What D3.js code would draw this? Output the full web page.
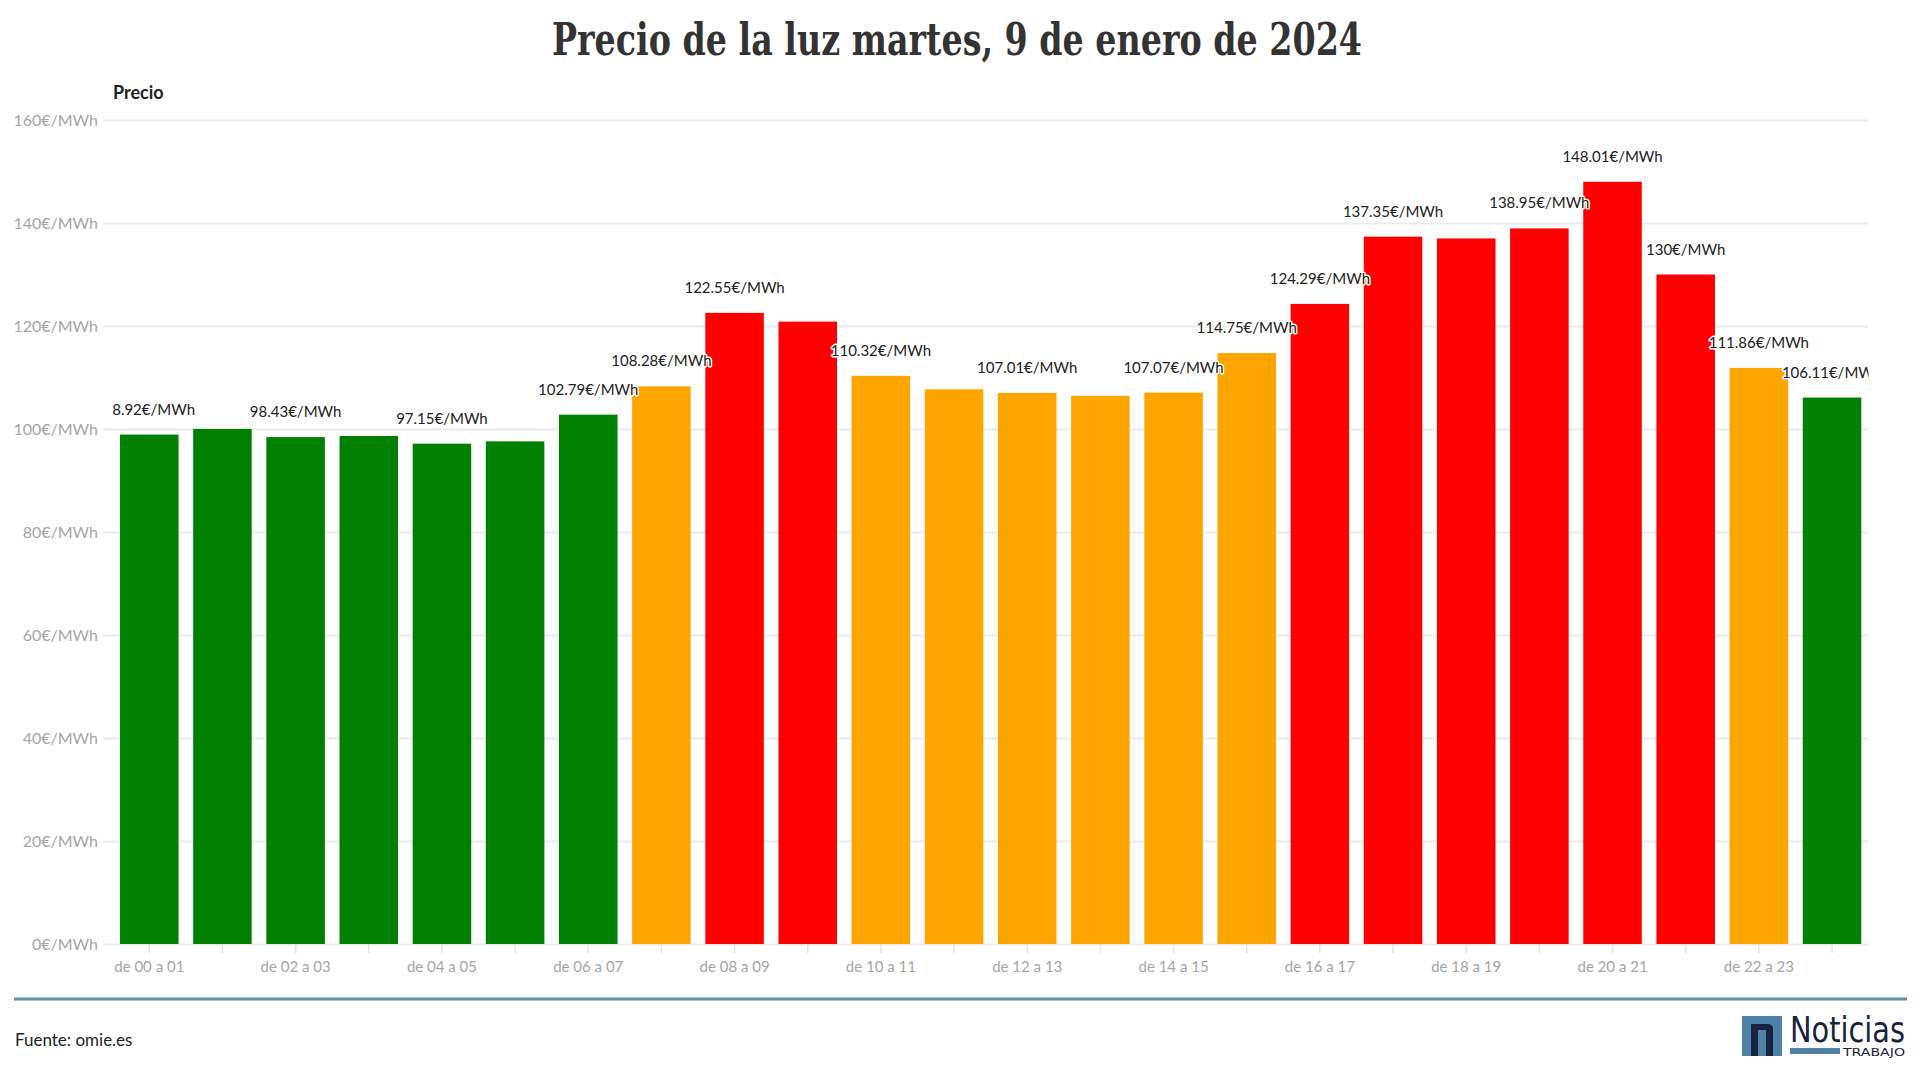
<!DOCTYPE html>
<html>
<head>
<meta charset="utf-8">
<script src="https://cdn.jsdelivr.net/npm/d3@7"></script>
<style>
  html, body { margin: 0; padding: 0; background: #fff; }
  svg { display: block; }
</style>
</head>
<body>
<svg id="chart" width="1920" height="1080"></svg>
<script>
// ---------- DATA ----------
const titleText = "Precio de la luz martes, 9 de enero de 2024";
const yAxisTitle = "Precio";
const sourceText = "Fuente: omie.es";
const hours = [
  "de 00 a 01", "de 01 a 02", "de 02 a 03", "de 03 a 04", "de 04 a 05", "de 05 a 06",
  "de 06 a 07", "de 07 a 08", "de 08 a 09", "de 09 a 10", "de 10 a 11", "de 11 a 12",
  "de 12 a 13", "de 13 a 14", "de 14 a 15", "de 15 a 16", "de 16 a 17", "de 17 a 18",
  "de 18 a 19", "de 19 a 20", "de 20 a 21", "de 21 a 22", "de 22 a 23", "de 23 a 24"
];
const prices = [
  98.92, 100.02, 98.43, 98.64, 97.15, 97.6,
  102.79, 108.28, 122.55, 120.85, 110.32, 107.7,
  107.01, 106.45, 107.07, 114.75, 124.29, 137.35,
  137.0, 138.95, 148.01, 130, 111.86, 106.11
];
const yTicks = [0, 20, 40, 60, 80, 100, 120, 140, 160];
const xTickLabels = hours.filter((d, i) => i % 2 === 0);
const priceThresholds = [106.3, 118];
const levelColors = ["#008000", "#ffa500", "#ff0000"];

// ---------- LAYOUT ----------
const svg = d3.select("#chart");
const plotLeft = 103, plotRight = 1868;
const bandLeft = 112.7, bandRight = 1868.6;
const yTop = 120, yBottom = 944;
const fontSans = "Lato, 'Source Sans Pro', 'Open Sans', sans-serif";

const x = d3.scaleBand().domain(hours).range([bandLeft, bandRight])
  .paddingInner(0.2).paddingOuter(0.1);
const y = d3.scaleLinear().domain([0, 160]).range([yBottom, yTop]);
const color = d3.scaleThreshold().domain(priceThresholds).range(levelColors);
const fmt = v => (Math.round(v * 100) / 100).toString() + "€/MWh";

// Title
svg.append("text")
  .attr("x", 957).attr("y", 55)
  .attr("text-anchor", "middle")
  .attr("font-family", "'DejaVu Serif', 'Liberation Serif', serif")
  .attr("font-stretch", "condensed")
  .attr("font-weight", "bold")
  .attr("font-size", 45)
  .attr("fill", "#333")
  .attr("textLength", 810).attr("lengthAdjust", "spacingAndGlyphs")
  .text(titleText);

// Axis title
svg.append("text")
  .attr("x", 113).attr("y", 99)
  .attr("font-family", fontSans).attr("font-weight", "bold")
  .attr("font-size", 18).attr("fill", "#222")
  .text(yAxisTitle);

// Gridlines + y labels via axis
const yAxis = d3.axisLeft(y).tickValues(yTicks)
  .tickSize(-(plotRight - plotLeft)).tickPadding(5)
  .tickFormat(d => d + "€/MWh");
const gy = svg.append("g").attr("transform", `translate(${plotLeft},0)`).call(yAxis);
gy.select(".domain").remove();
gy.selectAll(".tick line").attr("stroke", "#ebebeb").attr("stroke-width", 2);
gy.selectAll(".tick text")
  .attr("x", -5)
  .attr("font-family", fontSans).attr("font-size", 16).attr("fill", "#a6a6a6");

// X axis
const xAxis = d3.axisBottom(x).tickSize(9).tickPadding(8)
  .tickFormat(d => xTickLabels.includes(d) ? d : "");
const gx = svg.append("g").attr("transform", `translate(0,${yBottom})`).call(xAxis);
gx.select(".domain").remove();
gx.selectAll(".tick line").attr("stroke", "#e3e3e3").attr("stroke-width", 1.5);
gx.selectAll(".tick text")
  .attr("font-family", fontSans).attr("font-size", 15).attr("fill", "#a6a6a6");

// Bars
svg.append("g").selectAll("rect").data(prices).join("rect")
  .attr("x", (d, i) => x(hours[i]))
  .attr("y", d => y(d))
  .attr("width", x.bandwidth())
  .attr("height", d => y(0) - y(d))
  .attr("fill", d => color(d));

// Labels (clipped to band area, greedy collision hiding)
svg.append("clipPath").attr("id", "plotclip")
  .append("rect").attr("x", bandLeft).attr("y", 0)
  .attr("width", bandRight - bandLeft).attr("height", yBottom);
const lg = svg.append("g").attr("clip-path", "url(#plotclip)");
const placed = [];
prices.forEach((v, i) => {
  const t = lg.append("text")
    .attr("x", x(hours[i]) + x.bandwidth() / 2)
    .attr("y", y(v) - 20)
    .attr("text-anchor", "middle")
    .attr("font-family", fontSans).attr("font-size", 15)
    .attr("fill", "#222")
    .attr("stroke", "#fff").attr("stroke-width", 3)
    .attr("stroke-linejoin", "round").attr("paint-order", "stroke")
    .text(fmt(v));
  const b = t.node().getBBox();
  const box = { x0: b.x, x1: b.x + b.width, y0: b.y + 2, y1: b.y + b.height - 2 };
  const hit = placed.some(p => box.x0 < p.x1 && box.x1 > p.x0 && box.y0 < p.y1 && box.y1 > p.y0);
  if (hit) t.remove(); else placed.push(box);
});

// Separator
svg.append("line").attr("x1", 14).attr("x2", 1907).attr("y1", 999).attr("y2", 999)
  .attr("stroke", "#6590a5").attr("stroke-width", 3);

// Source
svg.append("text").attr("x", 15).attr("y", 1046)
  .attr("font-family", fontSans).attr("font-size", 17).attr("fill", "#222")
  .text(sourceText);

// Logo
const logo = svg.append("g");
logo.append("rect").attr("x", 1742).attr("y", 1016).attr("width", 40).attr("height", 40)
  .attr("fill", "#4f81a8");
logo.append("path")
  .attr("d", "M1751,1056 L1751,1024 L1768,1024 Q1773,1024 1773,1029 L1773,1056 L1766,1056 L1766,1030 L1758,1030 L1758,1056 Z")
  .attr("fill", "#17233f");
logo.append("text").attr("x", 1790).attr("y", 1042)
  .attr("font-family", "'DejaVu Sans Condensed', 'DejaVu Sans', sans-serif")
  .attr("font-stretch", "condensed")
  .attr("font-size", 36).attr("fill", "#17233f")
  .attr("textLength", 115).attr("lengthAdjust", "spacingAndGlyphs")
  .text("Noticias");
logo.append("rect").attr("x", 1790).attr("y", 1048).attr("width", 50).attr("height", 6)
  .attr("fill", "#4f81a8");
logo.append("text").attr("x", 1843).attr("y", 1056)
  .attr("font-family", "'DejaVu Sans', sans-serif")
  .attr("font-size", 10).attr("fill", "#17233f")
  .attr("textLength", 62).attr("lengthAdjust", "spacingAndGlyphs")
  .text("TRABAJO");
</script>
</body>
</html>
